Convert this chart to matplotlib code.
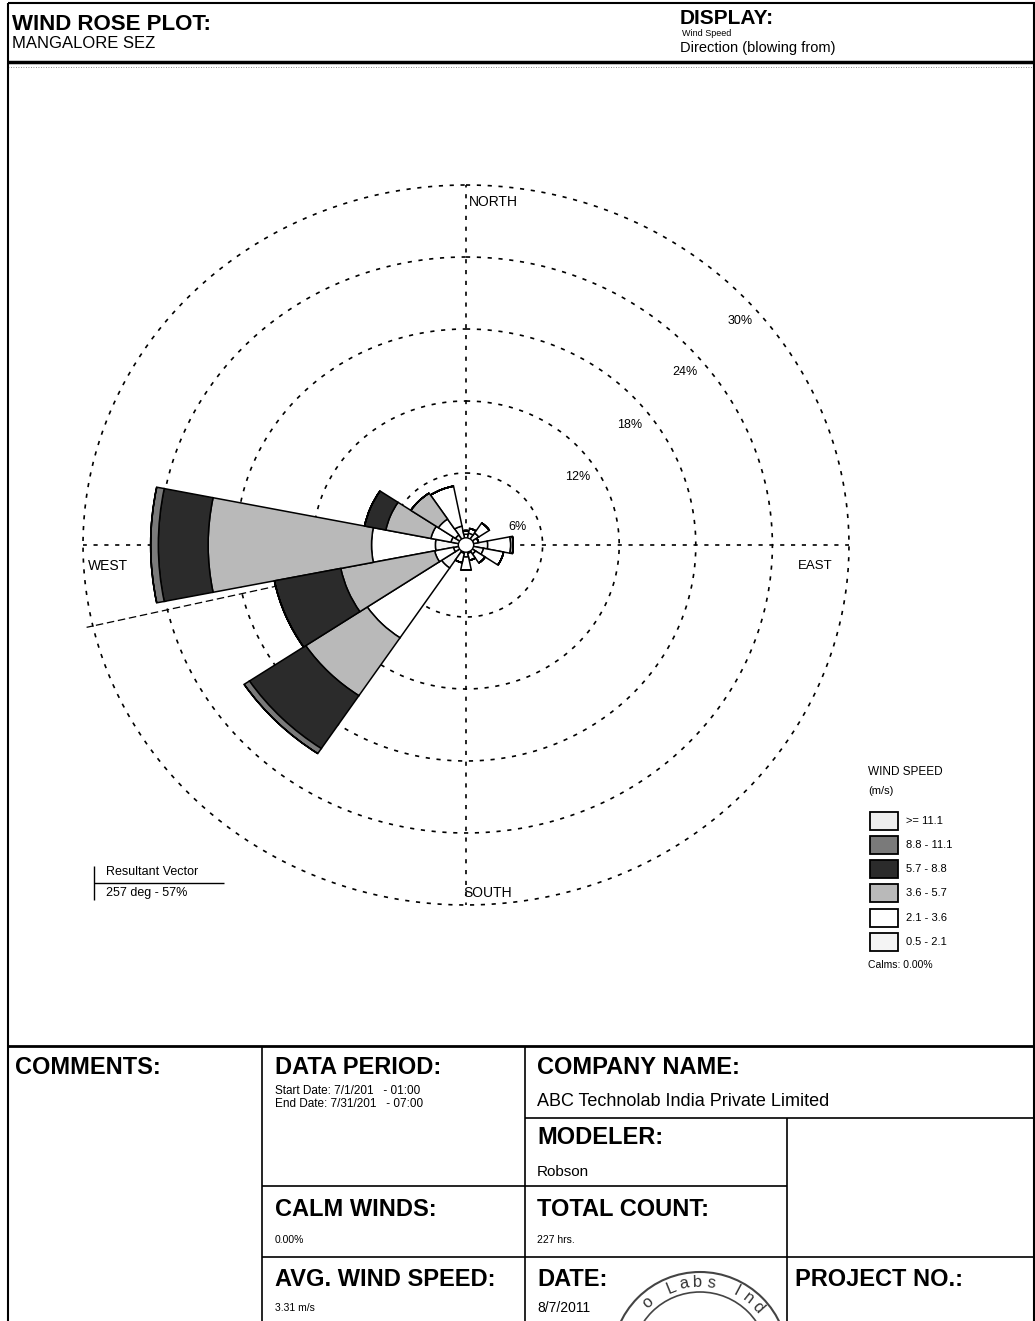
import numpy as np
import matplotlib
matplotlib.use('Agg')
import matplotlib.pyplot as plt
from matplotlib.patches import Rectangle, Circle

plt.rcParams['font.family'] = ['Liberation Sans', 'DejaVu Sans']

W, H = 1035, 1321

# --- data -------------------------------------------------------------
directions = ['N', 'NNE', 'NE', 'ENE', 'E', 'ESE', 'SE', 'SSE',
              'S', 'SSW', 'SW', 'WSW', 'W', 'WNW', 'NW', 'NNW']
direction_deg = [0, 22.5, 45, 67.5, 90, 112.5, 135, 157.5,
                 180, 202.5, 225, 247.5, 270, 292.5, 315, 337.5]

speed_labels = ['0.5 - 2.1', '2.1 - 3.6', '3.6 - 5.7', '5.7 - 8.8', '8.8 - 11.1', '>= 11.1']

# frequency (%) per direction for each speed class
freq_05_21 = [0.9, 1.0, 1.2, 0.6, 1.7, 1.4, 0.9, 0.7, 1.0, 0.7, 2.3, 1.0, 2.4, 1.2, 1.0, 1.6]
freq_21_36 = [0.3, 0.4, 1.0, 0.4, 1.8, 1.6, 0.9, 0.6, 1.1, 0.8, 7.0, 1.5, 5.0, 1.6, 1.6, 3.4]
freq_36_57 = [0, 0, 0, 0, 0.2, 0, 0, 0, 0, 0, 5.8, 7.5, 12.8, 3.6, 2.6, 0]
freq_57_88 = [0, 0, 0, 0, 0, 0, 0, 0, 0, 0, 5.3, 5.3, 3.9, 1.7, 0, 0]
freq_88_111 = [0, 0, 0, 0, 0, 0, 0, 0, 0, 0, 0.5, 0, 0.6, 0, 0, 0]
freq_111 = [0, 0, 0, 0, 0, 0, 0, 0, 0, 0, 0, 0, 0, 0, 0, 0]

ring_values = [6, 12, 18, 24, 30]
resultant_deg = 257
resultant_pct = 57

# colours for 0.5-2.1 ... >=11.1
speed_colors = ['#f4f4f4', '#ffffff', '#b9b9b9', '#2b2b2b', '#7a7a7a', '#eeeeee']

# --- figure -----------------------------------------------------------
fig = plt.figure(figsize=(W / 100, H / 100), dpi=100)
fig.patch.set_facecolor('white')

# overlay in pixel coordinates (y down) for frame, header and table
ov = fig.add_axes([0, 0, 1, 1])
ov.set_xlim(0, W)
ov.set_ylim(H, 0)
ov.axis('off')


def hline(y, x0, x1, lw=1.2, **kw):
    ov.plot([x0, x1], [y, y], color='black', lw=lw, solid_capstyle='butt', **kw)


def vline(x, y0, y1, lw=1.2, **kw):
    ov.plot([x, x], [y0, y1], color='black', lw=lw, solid_capstyle='butt', **kw)


def txt(x, y, s, size, bold=False, **kw):
    ov.text(x, y, s, fontsize=size, fontweight='bold' if bold else 'normal',
            ha=kw.pop('ha', 'left'), va=kw.pop('va', 'center'), **kw)


# frame
vline(8, 3, H, lw=1.5)
vline(1034, 3, H, lw=1.5)
hline(3, 8, W, lw=1.5)
hline(62, 8, W, lw=2.5)
hline(67, 8, W, lw=0.6, ls=(0, (1, 2)), alpha=0.6)

# header
txt(12, 24, 'WIND ROSE PLOT:', 16, bold=True)
txt(12, 44, 'MANGALORE SEZ', 12)
txt(680, 19, 'DISPLAY:', 15, bold=True)
txt(682, 34, 'Wind Speed', 6.5)
txt(680, 48, 'Direction (blowing from)', 10.5)

# table
hline(1046, 8, W, lw=2)
vline(262, 1046, H)
vline(525, 1046, H)
vline(787, 1118, H)
hline(1118, 525, W)
hline(1186, 262, 787)
hline(1257, 262, W)

txt(15, 1068, 'COMMENTS:', 17, bold=True)
txt(275, 1068, 'DATA PERIOD:', 17, bold=True)
txt(275, 1091, 'Start Date: 7/1/201   - 01:00', 8.5)
txt(275, 1104, 'End Date: 7/31/201   - 07:00', 8.5)
txt(537, 1068, 'COMPANY NAME:', 17, bold=True)
txt(537, 1101, 'ABC Technolab India Private Limited', 13)
txt(537, 1138, 'MODELER:', 17, bold=True)
txt(537, 1172, 'Robson', 11)
txt(275, 1210, 'CALM WINDS:', 17, bold=True)
txt(275, 1240, '0.00%', 7.5)
txt(537, 1210, 'TOTAL COUNT:', 17, bold=True)
txt(537, 1240, '227 hrs.', 7.5)
txt(275, 1280, 'AVG. WIND SPEED:', 17, bold=True)
txt(275, 1308, '3.31 m/s', 7.5)
txt(537, 1280, 'DATE:', 17, bold=True)
txt(537, 1308, '8/7/2011', 10)
txt(795, 1280, 'PROJECT NO.:', 17, bold=True)

# stamp
cx, cy = 700, 1360
ov.add_patch(Circle((cx, cy), 88, fill=False, ec='#444444', lw=1.5))
ov.add_patch(Circle((cx, cy), 68, fill=False, ec='#444444', lw=1.2))
stamp_text = 'Techno Labs India Pvt. Ltd.'
for i, ch in enumerate(stamp_text):
    phi = -92 + 10 * i
    r = 78
    x = cx + r * np.sin(np.radians(phi))
    y = cy - r * np.cos(np.radians(phi))
    if y > H - 10:
        continue
    ov.text(x, y, ch, fontsize=12, rotation=-phi, ha='center', va='center',
            color='#333333')

# resultant vector legend
vline(94, 866, 900, lw=1)
hline(883, 94, 224, lw=1)
txt(106, 872, 'Resultant Vector', 9)
txt(106, 893, '%d deg - %d%%' % (resultant_deg, resultant_pct), 9)

# wind speed legend
txt(868, 772, 'WIND SPEED', 8.5)
txt(868, 791, '(m/s)', 8)
legend_rows = [821, 845, 869, 893, 918, 942]
for yc, lab, col in zip(legend_rows, speed_labels[::-1], speed_colors[::-1]):
    ov.add_patch(Rectangle((870, yc - 9), 28, 18, fc=col, ec='black', lw=1.3))
    txt(906, yc, lab, 8)
txt(868, 965, 'Calms: 0.00%', 7.5)

# compass labels
txt(469, 202, 'NORTH', 10)
txt(463, 893, 'SOUTH', 10)
txt(88, 566, 'WEST', 10)
txt(798, 566, 'EAST', 9.5)

# --- wind rose ----------------------------------------------------------
ax = fig.add_axes([83 / W, 1 - 905 / H, 766 / W, 720 / H], projection='polar')
ax.set_aspect('auto')
ax.patch.set_alpha(0)
ax.set_theta_zero_location('N')
ax.set_theta_direction(-1)
ax.set_ylim(0, 30)
ax.grid(False)
ax.set_xticks([])
ax.set_yticks([])
ax.spines['polar'].set_visible(False)

theta = np.radians(direction_deg)
width = np.radians(22.5)
bottom = np.zeros(len(directions))
for vals, col in zip([freq_05_21, freq_21_36, freq_36_57, freq_57_88, freq_88_111, freq_111],
                     speed_colors):
    vals = np.array(vals)
    ax.bar(theta, vals, width=width, bottom=bottom, color=col, edgecolor='black',
           linewidth=1.1, zorder=3)
    bottom += vals

ax.add_patch(Circle((0, 0), 0.6, transform=ax.transData._b, fc='white', ec='black', lw=1, zorder=4))

t = np.linspace(0, 2 * np.pi, 400)
for rv in ring_values:
    ax.plot(t, np.full_like(t, rv), color='black', lw=1.2, ls=(0, (2.5, 4)),
            clip_on=False, zorder=2)
for a in [0, 90, 180, 270]:
    ax.plot([np.radians(a)] * 2, [0, 30], color='black', lw=1.2, ls=(0, (2.5, 4)),
            clip_on=False, zorder=2)

ax.plot([np.radians(resultant_deg)] * 2, [0, 30.5], color='black', lw=0.9,
        ls=(0, (6, 3)), zorder=1, clip_on=False)

label_pos = [(69, 4.3), (57, 10.4), (52, 16.3), (50, 22.4), (49, 28.4)]
for rv, (ang, rr) in zip(ring_values, label_pos):
    ax.text(np.radians(ang), rr, '%d%%' % rv, fontsize=9, ha='center', va='center', zorder=5)

fig.savefig('out.png', dpi=100)
